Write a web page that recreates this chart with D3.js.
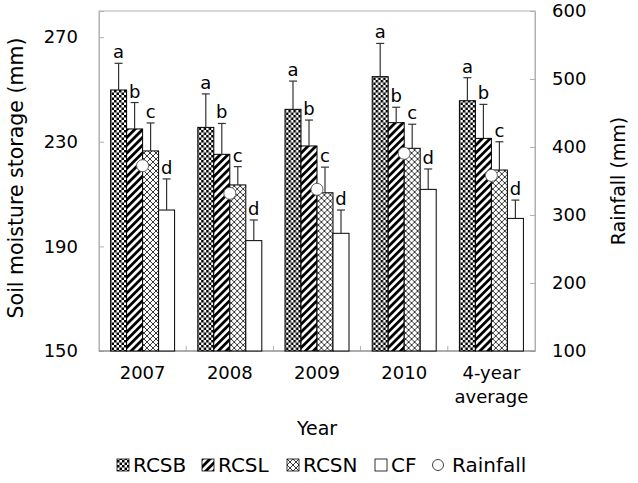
<!DOCTYPE html>
<html><head><meta charset="utf-8">
<script src="https://cdn.jsdelivr.net/npm/d3@7"></script>
<style>body{margin:0;background:#fff}svg{display:block}text{font-family:"DejaVu Sans",Verdana,sans-serif}</style>
</head><body><svg id="c" width="638" height="483"></svg>
<script>
const categories = ["2007","2008","2009","2010","4-year average"];
const series = ["RCSB","RCSL","RCSN","CF"];
const RCSB = [249.8,235.5,242.4,254.9,245.7];
const RCSL = [234.9,225.2,228.4,237.3,231.3];
const RCSN = [226.5,213.5,210.5,227.5,219.2];
const CF   = [203.9,192.2,195.0,211.8,200.7];
const errRCSB = [10.2,12.8,10.8,12.7,8.8];
const errRCSL = [10.1,11.8,9.9,5.9,13.0];
const errRCSN = [10.7,7.0,9.8,9.2,10.8];
const errCF   = [11.9,7.9,8.9,7.8,7.0];
const letters = ["a","b","c","d"];
const rainfall = [372.5,331.9,337.8,390.7,358.2];
const leftTicks = [150,190,230,270];
const rightTicks = [100,200,300,400,500,600];

const values = [RCSB,RCSL,RCSN,CF];
const errs = [errRCSB,errRCSL,errRCSN,errCF];

const svg = d3.select("#c");
const L=99, R=535, T=11, B=351;
const FS=18, TS=19;
const x0 = d3.scaleBand().domain(categories).range([L,R]).paddingInner(0).paddingOuter(0);
const x1 = d3.scaleBand().domain(series).range([0,x0.bandwidth()]).paddingInner(0).paddingOuter(0.725);
const y = d3.scaleLinear().domain([150,280]).range([B,T]);
const y2 = d3.scaleLinear().domain([100,600]).range([B,T]);

const defs = svg.append("defs");
const p1 = defs.append("pattern").attr("id","pB").attr("patternUnits","userSpaceOnUse").attr("width",5).attr("height",5);
p1.append("rect").attr("width",5).attr("height",5).attr("fill","#fff");
p1.append("rect").attr("x",0).attr("y",0).attr("width",2.5).attr("height",2.5).attr("fill","#000");
p1.append("rect").attr("x",2.5).attr("y",2.5).attr("width",2.5).attr("height",2.5).attr("fill","#000");
const p2 = defs.append("pattern").attr("id","pL").attr("patternUnits","userSpaceOnUse").attr("width",5.5).attr("height",5.5).attr("patternTransform","rotate(45)");
p2.append("rect").attr("width",5.5).attr("height",5.5).attr("fill","#fff");
p2.append("rect").attr("width",2.8).attr("height",5.5).attr("fill","#000");
const p3 = defs.append("pattern").attr("id","pN").attr("patternUnits","userSpaceOnUse").attr("width",6).attr("height",6);
p3.append("rect").attr("width",6).attr("height",6).attr("fill","#fff");
p3.append("path").attr("d","M0,0L6,6M6,0L0,6M-1,5L1,7M5,-1L7,1").attr("stroke","#222").attr("stroke-width",0.9);
const fills = ["url(#pB)","url(#pL)","url(#pN)","#fff"];

svg.append("rect").attr("x",L).attr("y",T).attr("width",R-L).attr("height",B-T).attr("fill","none").attr("stroke","#b0b0b0").attr("stroke-width",1);

const ga = svg.append("g").attr("transform",`translate(${L},0)`).call(d3.axisLeft(y).tickValues(leftTicks).tickSize(-5).tickPadding(21));
const gb = svg.append("g").attr("transform",`translate(${R},0)`).call(d3.axisRight(y2).tickValues(rightTicks).tickSize(-5).tickPadding(17));
[ga,gb].forEach(g=>{g.select(".domain").attr("stroke","#b0b0b0");g.selectAll(".tick line").attr("stroke","#b0b0b0");g.selectAll("text").attr("font-size",FS).attr("fill","#000").attr("font-family","DejaVu Sans");});

const bounds = categories.slice(1).map(c=>x0(c));
svg.append("g").selectAll("line").data(bounds).join("line").attr("x1",d=>d).attr("x2",d=>d).attr("y1",B).attr("y2",B-5).attr("stroke","#b0b0b0");
svg.append("line").attr("x1",L).attr("x2",R).attr("y1",B).attr("y2",B).attr("stroke","#808080");

const groups = svg.append("g").selectAll("g").data(categories).join("g").attr("transform",d=>`translate(${x0(d)},0)`);
series.forEach((s,si)=>{
  groups.append("rect").attr("x",x1(s)).attr("width",x1.bandwidth())
    .attr("y",(d,i)=>y(values[si][i])).attr("height",(d,i)=>B-y(values[si][i]))
    .attr("fill",fills[si]).attr("stroke","#000").attr("stroke-width",1);
});
series.forEach((s,si)=>{
  const cx = x1(s)+x1.bandwidth()/2;
  groups.append("line").attr("x1",cx).attr("x2",cx).attr("y1",(d,i)=>y(values[si][i])).attr("y2",(d,i)=>y(values[si][i]+errs[si][i])).attr("stroke","#333").attr("stroke-width",1.2);
  groups.append("line").attr("x1",cx-4).attr("x2",cx+4).attr("y1",(d,i)=>y(values[si][i]+errs[si][i])).attr("y2",(d,i)=>y(values[si][i]+errs[si][i])).attr("stroke","#333").attr("stroke-width",1.2);
  groups.append("text").attr("x",cx).attr("y",(d,i)=>y(values[si][i]+errs[si][i])-5).attr("text-anchor","middle").attr("font-size",FS).text(letters[si]);
});
groups.append("circle").attr("cx",x0.bandwidth()/2).attr("cy",(d,i)=>y2(rainfall[i])).attr("r",6).attr("fill","#fff").attr("stroke","#666").attr("stroke-width",1);

groups.append("text").attr("x",x0.bandwidth()/2).attr("y",379).attr("text-anchor","middle").attr("font-size",FS)
  .each(function(d){const parts = d==="4-year average"?["4-year","average"]:[d];
    parts.forEach((p,k)=>d3.select(this).append("tspan").attr("x",x0.bandwidth()/2).attr("dy",k?24:0).text(p));});

svg.append("text").attr("x",(L+R)/2).attr("y",435).attr("text-anchor","middle").attr("font-size",TS).text("Year");
svg.append("text").attr("transform",`translate(23,178) rotate(-90)`).attr("text-anchor","middle").attr("font-size",20.5).text("Soil moisture storage (mm)");
svg.append("text").attr("transform",`translate(625,${(T+B)/2}) rotate(-90)`).attr("text-anchor","middle").attr("font-size",TS).text("Rainfall (mm)");

const leg = [{n:"RCSB",f:fills[0],x:117},{n:"RCSL",f:fills[1],x:202},{n:"RCSN",f:fills[2],x:287},{n:"CF",f:fills[3],x:375},{n:"Rainfall",f:null,x:432}];
const lg = svg.append("g").selectAll("g").data(leg).join("g").attr("transform",d=>`translate(${d.x},465)`);
lg.filter(d=>d.f).append("rect").attr("x",0).attr("y",-6).attr("width",12).attr("height",12).attr("fill",d=>d.f).attr("stroke","#000").attr("stroke-width",0.8);
lg.filter(d=>!d.f).append("circle").attr("cx",6).attr("cy",0).attr("r",5.5).attr("fill","#fff").attr("stroke","#444");
lg.append("text").attr("x",d=>d.f?16:20).attr("y",7).attr("font-size",20).text(d=>d.n);
</script></body></html>
